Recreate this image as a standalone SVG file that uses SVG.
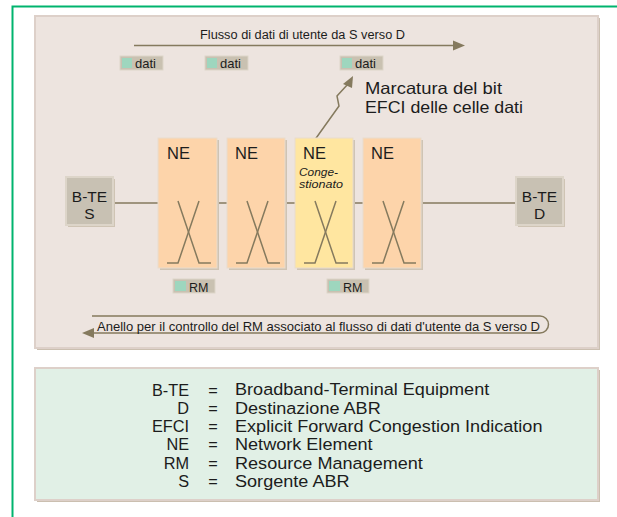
<svg xmlns="http://www.w3.org/2000/svg" width="617" height="517" viewBox="0 0 617 517">
<defs>
<style>
.t{font-family:"Liberation Sans",Arial,sans-serif;fill:#1c1c1c}
.c{font-family:"Liberation Sans",Arial,sans-serif;fill:#1c1c1c}
.ln{stroke:#857a5e;stroke-width:1.5;fill:none}
.ne{fill:#fdd4aa;stroke:#e9dccd;stroke-width:1}
.nec{fill:#ffe6a0;stroke:#e9dccd;stroke-width:1}
.sh{fill:#cfc4b4}
.bte{fill:#c8c1b3;stroke:#ddd5c9;stroke-width:2}
.tag{fill:#c9c1b1;stroke:#ddd5c9;stroke-width:1}
.sq{fill:#9ed6be}
</style>
</defs>
<rect width="617" height="517" fill="#ffffff"/>
<path d="M12.5 517 V6.5 H617" fill="none" stroke="#00b46e" stroke-width="2"/>

<g id="panel-top">
<rect x="37" y="18" width="563" height="332" fill="#cbbfb0"/>
<rect x="35" y="16" width="563" height="332" fill="#ede4df" stroke="#ddd0c9" stroke-width="2"/>
</g>
<g id="panel-legend">
<rect x="37" y="370" width="563" height="132" fill="#cbbfb0"/>
<rect x="35" y="368" width="563" height="132" fill="#e1f0e6" stroke="#ddd0c9" stroke-width="2"/>
</g>

<g id="connectors">
<line class="ln" x1="113" y1="203" x2="158" y2="203"/>
<line class="ln" x1="217" y1="203" x2="227" y2="203"/>
<line class="ln" x1="285" y1="203" x2="295" y2="203"/>
<line class="ln" x1="353" y1="203" x2="363" y2="203"/>
<line class="ln" x1="421" y1="203" x2="516" y2="203"/>
<line class="ln" x1="134" y1="45.5" x2="455" y2="45.5"/>
<polygon points="453,40.5 465,45.5 453,50.5" fill="#857a5e"/>
<polyline class="ln" points="314,141 339,106 337,96 348,84"/>
<polygon points="353,76 343,84 352,88" fill="#857a5e"/>
<path class="ln" d="M92 316 H540 A8.5 8.5 0 0 1 540 333 H92"/>
<polygon points="82,333 94,328 94,338" fill="#857a5e"/>
</g>

<g id="flow-label">
<text class="c" x="200" y="39" font-size="12.5" textLength="205" lengthAdjust="spacingAndGlyphs">Flusso di dati di utente da S verso D</text>
</g>
<g id="loop-label">
<text class="c" x="97" y="331" font-size="13" textLength="443" lengthAdjust="spacingAndGlyphs">Anello per il controllo del RM associato al flusso di dati d'utente da S verso D</text>
</g>

<g id="dati1"><rect class="tag" x="120" y="56" width="43" height="14"/><rect class="sq" x="122" y="58" width="10" height="10"/><text class="t" x="135" y="67.5" font-size="13">dati</text></g>
<g id="dati2"><rect class="tag" x="205" y="56" width="43" height="14"/><rect class="sq" x="207" y="58" width="10" height="10"/><text class="t" x="220" y="67.5" font-size="13">dati</text></g>
<g id="dati3"><rect class="tag" x="340" y="56" width="43" height="14"/><rect class="sq" x="342" y="58" width="10" height="10"/><text class="t" x="355" y="67.5" font-size="13">dati</text></g>

<g id="note">
<text class="t" x="365" y="94" font-size="16.5" textLength="137" lengthAdjust="spacingAndGlyphs">Marcatura del bit</text>
<text class="t" x="365" y="113" font-size="16.5" textLength="158" lengthAdjust="spacingAndGlyphs">EFCI delle celle dati</text>
</g>

<g id="bte-s">
<rect class="sh" x="68" y="179" width="47" height="48"/>
<rect class="bte" x="66" y="177" width="47" height="48"/>
<text class="t" x="89.5" y="201.5" font-size="15.5" text-anchor="middle">B-TE</text>
<text class="t" x="89.5" y="219" font-size="15.5" text-anchor="middle">S</text>
</g>
<g id="bte-d">
<rect class="sh" x="518" y="179" width="47" height="48"/>
<rect class="bte" x="516" y="177" width="47" height="48"/>
<text class="t" x="539.5" y="201.5" font-size="15.5" text-anchor="middle">B-TE</text>
<text class="t" x="539.5" y="219" font-size="15.5" text-anchor="middle">D</text>
</g>

<g id="ne1">
<rect class="sh" x="160" y="140" width="59" height="130"/>
<rect class="ne" x="158" y="138" width="59" height="130"/>
<text class="t" x="167" y="159" font-size="16.5">NE</text>
<polyline class="ln" points="178,201 199,263 211,263"/>
<polyline class="ln" points="199,201 178,263 167,263"/>
</g>
<g id="ne2">
<rect class="sh" x="229" y="140" width="58" height="130"/>
<rect class="ne" x="227" y="138" width="58" height="130"/>
<text class="t" x="235" y="159" font-size="16.5">NE</text>
<polyline class="ln" points="247,201 268,263 280,263"/>
<polyline class="ln" points="268,201 247,263 236,263"/>
</g>
<g id="ne3">
<rect class="sh" x="297" y="140" width="58" height="130"/>
<rect class="nec" x="295" y="138" width="58" height="130"/>
<text class="t" x="303" y="159" font-size="16.5">NE</text>
<text class="c" x="299" y="176" font-size="10.7" font-style="italic" textLength="39" lengthAdjust="spacingAndGlyphs">Conge-</text>
<text class="c" x="299" y="188" font-size="10.7" font-style="italic" textLength="44" lengthAdjust="spacingAndGlyphs">stionato</text>
<polyline class="ln" points="315,201 336,263 348,263"/>
<polyline class="ln" points="336,201 315,263 304,263"/>
</g>
<g id="ne4">
<rect class="sh" x="365" y="140" width="58" height="130"/>
<rect class="ne" x="363" y="138" width="58" height="130"/>
<text class="t" x="371" y="159" font-size="16.5">NE</text>
<polyline class="ln" points="383,201 404,263 416,263"/>
<polyline class="ln" points="404,201 383,263 372,263"/>
</g>

<g id="rm1"><rect class="tag" x="173" y="279" width="42" height="14"/><rect class="sq" x="175" y="281" width="11" height="10"/><text class="t" x="189" y="291.5" font-size="12.5">RM</text></g>
<g id="rm2"><rect class="tag" x="327" y="279" width="42" height="14"/><rect class="sq" x="329" y="281" width="11" height="10"/><text class="t" x="343" y="291.5" font-size="12.5">RM</text></g>

<g id="legend" class="t" font-size="16.3">
<text x="189" y="395.5" text-anchor="end">B-TE</text>
<text x="189" y="413.8" text-anchor="end">D</text>
<text x="189" y="432" text-anchor="end">EFCI</text>
<text x="189" y="450.3" text-anchor="end">NE</text>
<text x="189" y="468.6" text-anchor="end">RM</text>
<text x="189" y="487" text-anchor="end">S</text>
<text x="213" y="395.5" text-anchor="middle">=</text>
<text x="213" y="413.8" text-anchor="middle">=</text>
<text x="213" y="432" text-anchor="middle">=</text>
<text x="213" y="450.3" text-anchor="middle">=</text>
<text x="213" y="468.6" text-anchor="middle">=</text>
<text x="213" y="487" text-anchor="middle">=</text>
<g transform="translate(235 0) scale(1.11 1)">
<text x="0" y="395.5">Broadband-Terminal Equipment</text>
<text x="0" y="413.8">Destinazione ABR</text>
<text x="0" y="432">Explicit Forward Congestion Indication</text>
<text x="0" y="450.3">Network Element</text>
<text x="0" y="468.6">Resource Management</text>
<text x="0" y="487">Sorgente ABR</text>
</g>
</g>
</svg>
